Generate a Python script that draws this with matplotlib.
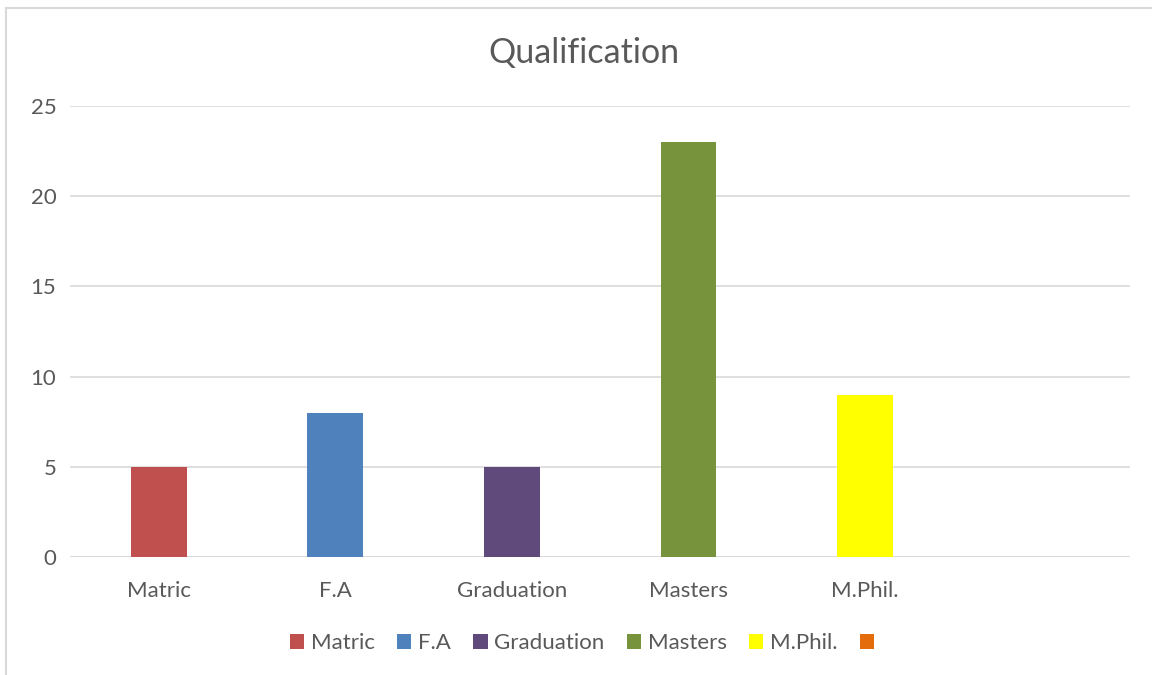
import numpy as np
import matplotlib.pyplot as plt
from matplotlib.patches import Patch
from matplotlib.lines import Line2D

# data
categories = ["Matric", "F.A", "Graduation", "Masters", "M.Phil.", ""]
values = [5, 8, 5, 23, 9, 0]
colors = ["#C0504D", "#4F81BD", "#604A7B", "#77933C", "#FFFF00", "#E46C0A"]
yticks = [0, 5, 10, 15, 20, 25]

plt.rcParams['font.family'] = ['Lato', 'DejaVu Sans']
text_color = "#595959"

fig = plt.figure(figsize=(11.52, 6.75), dpi=100)
ax = fig.add_axes([0.061, 0.1748, 0.920, 0.6682])

x = np.arange(len(categories))
ax.bar(x, values, width=0.316, color=colors, zorder=3)

ax.set_xlim(-0.5, len(categories) - 0.5)
ax.set_ylim(0, 25)
ax.set_yticks(yticks)
ax.set_xticks(x)
ax.set_xticklabels(categories)
ax.tick_params(axis='both', length=0, colors=text_color, labelsize=16)
ax.tick_params(axis='x', pad=17)
ax.tick_params(axis='y', pad=10)
ax.grid(axis='y', color="#D9D9D9", linewidth=1.2, zorder=0)
for s in ax.spines.values():
    s.set_visible(False)
ax.axhline(0, color="#D9D9D9", linewidth=1.2, zorder=1)

fig.text(0.507, 0.921, "Qualification", ha='center', va='center',
         fontsize=24.5, color=text_color)

# legend
handles = [Patch(facecolor=c, edgecolor='none') for c in colors]
leg = fig.legend(handles, categories, loc='center', bbox_to_anchor=(0.508, 0.047),
                 ncol=6, frameon=False, fontsize=16, handlelength=0.65,
                 handleheight=0.65, handletextpad=0.3, columnspacing=1.0)
for t in leg.get_texts():
    t.set_color(text_color)

# chart border (left and top)
fig.add_artist(Line2D([0.0055, 0.0055], [0.0, 0.988], color="#D9D9D9", linewidth=1.5))
fig.add_artist(Line2D([0.0055, 1.0], [0.988, 0.988], color="#D9D9D9", linewidth=1.5))

fig.savefig("out.png", dpi=100)
